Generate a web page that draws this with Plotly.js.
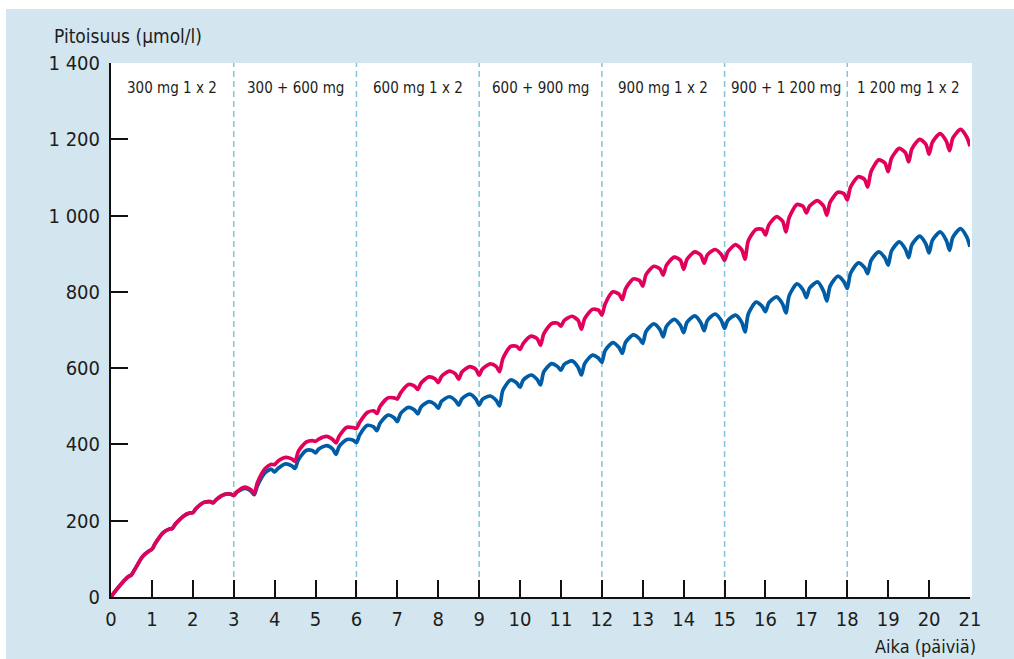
<!DOCTYPE html>
<html>
<head>
<meta charset="utf-8">
<script src="https://cdn.plot.ly/plotly-3.0.1.min.js"></script>
<style>
  html, body { margin: 0; padding: 0; background: #ffffff; }
  #chart { width: 1014px; height: 659px; }
</style>
</head>
<body>
<div id="chart"></div>
<script>
// ---- data ----
const doseDays = [0,0.5,1,1.5,2,2.5,3,3.5,4,4.5,5,5.5,6,6.5,7,7.5,8,8.5,9,9.5,10,10.5,
                  11,11.5,12,12.5,13,13.5,14,14.5,15,15.5,16,16.5,17,17.5,18,18.5,19,19.5,20,20.5,21];
const sampleOffsets = [0.08, 0.27, 0.42];   // rise, peak, fall sample times after each dose

const pinkTrough = [0,58,125,180,221,247,266,272,347,356,408,404,442,481,519,544,562,571,582,591,649,660,
                    710,702,739,780,815,844,859,875,883,886,949,957,1007,1001,1041,1075,1115,1141,1161,1170,1182];
const pinkRise   = [12,72,140,192,232,256,276,300,356,382,414,422,458,500,535,561,578,590,598,625,665,690,
                    725,730,768,808,845,870,885,897,905,934,975,995,1025,1035,1075,1115,1150,1175,1192,1203];
const pinkPeak   = [37,106,168,212,248,269,288,337,366,406,421,445,484,522,557,577,592,604,611,657,684,717,
                    736,754,800,834,867,891,905,911,924,964,997,1029,1039,1061,1102,1146,1176,1200,1215,1226];
const pinkFall   = [53,120,178,220,250,270,281,348,362,410,413,444,488,522,553,572,585,597,604,657,677,718,
                    725,752,794,830,860,883,896,898,910,964,985,1024,1025,1057,1095,1138,1165,1187,1195,1206];

const blueTrough = [0,58,125,180,221,247,266,268,328,337,378,374,405,436,460,480,495,503,503,501,550,556,
                    595,582,615,639,665,682,693,698,704,695,748,745,785,776,809,848,870,890,902,909,918];
const blueRise   = [12,72,140,192,232,256,275,292,337,360,388,395,425,456,481,498,513,520,518,542,569,590,
                    610,612,646,668,696,710,720,725,725,742,771,790,810,815,849,882,907,924,935,943];
const bluePeak   = [37,106,168,212,248,269,285,326,349,384,397,413,450,477,497,512,525,532,527,569,582,612,
                    619,634,667,687,716,728,737,742,739,773,787,821,826,841,876,905,931,946,957,966];
const blueFall   = [53,120,178,220,250,270,278,335,344,384,388,411,446,470,490,505,515,519,515,561,570,604,
                    602,626,654,677,701,712,719,725,720,762,768,805,802,826,864,889,912,926,935,944];

const segmentStarts = [0,3,6,9,12,15,18];
const segmentLabels = ['300 mg 1 x 2','300 + 600 mg','600 mg 1 x 2','600 + 900 mg',
                       '900 mg 1 x 2','900 + 1 200 mg','1 200 mg 1 x 2'];
const dividerDays = [3,6,9,12,15,18];

const xTickVals = [0,1,2,3,4,5,6,7,8,9,10,11,12,13,14,15,16,17,18,19,20,21];
const yTickVals = [0,200,400,600,800,1000,1200,1400];
const yTickText = ['0','200','400','600','800','1 000','1 200','1 400'];

const yTitle = 'Pitoisuus (µmol/l)';
const xTitle = 'Aika (päiviä)';

// ---- build series table ----
function buildSeries(trough, rise, peak, fall) {
  const x = [], y = [];
  for (let k = 0; k < doseDays.length - 1; k++) {
    x.push(doseDays[k]);                      y.push(trough[k]);
    x.push(doseDays[k] + sampleOffsets[0]);   y.push(rise[k]);
    x.push(doseDays[k] + sampleOffsets[1]);   y.push(peak[k]);
    x.push(doseDays[k] + sampleOffsets[2]);   y.push(fall[k]);
  }
  x.push(doseDays[doseDays.length - 1]); y.push(trough[trough.length - 1]);
  return {x, y};
}
const pinkS = buildSeries(pinkTrough, pinkRise, pinkPeak, pinkFall);
const blueS = buildSeries(blueTrough, blueRise, bluePeak, blueFall);

const FONT = 'Liberation Sans Narrow, DejaVu Sans Condensed, Arial Narrow, sans-serif';
const TXT = '#1d1d1b';
const PINK = '#e2005a';
const BLUE = '#005ca5';
const BG = '#d3e6ef';

const traces = [
  {x: blueS.x, y: blueS.y, type: 'scatter', mode: 'lines',
   line: {color: BLUE, width: 3.7, shape: 'spline', smoothing: 0.7}, hoverinfo: 'skip'},
  {x: pinkS.x, y: pinkS.y, type: 'scatter', mode: 'lines',
   line: {color: PINK, width: 3.7, shape: 'spline', smoothing: 0.7}, hoverinfo: 'skip'}
];

// margins -> plot area 111..970 x 63..597
const L = 111, R = 44, T = 63, B = 62, W = 1014, H = 659;
const pw = W - L - R, ph = H - T - B;
const px2x = p => (p - L) / pw;
const py2y = p => (H - B - p) / ph;

const shapes = [
  {type: 'rect', xref: 'paper', yref: 'paper', layer: 'below',
   x0: px2x(6), x1: px2x(1014), y0: py2y(659), y1: py2y(9),
   fillcolor: BG, line: {width: 0}},
  {type: 'rect', xref: 'paper', yref: 'paper', layer: 'below',
   x0: 0, x1: px2x(972), y0: 0, y1: 1,
   fillcolor: '#ffffff', line: {width: 0}}
];
dividerDays.forEach(d => shapes.push({
  type: 'line', xref: 'x', yref: 'paper', layer: 'below',
  x0: d, x1: d, y0: 0, y1: 1,
  line: {color: '#86c3d6', width: 1.5, dash: '6px,4px'}
}));

const annotations = segmentStarts.map((s, i) => ({
  x: s + 1.5, xref: 'x', y: py2y(88), yref: 'paper',
  text: segmentLabels[i], showarrow: false, xanchor: 'center', yanchor: 'middle',
  font: {family: FONT, size: 15, color: TXT}
}));
annotations.push({
  x: px2x(52), xref: 'paper', y: py2y(36), yref: 'paper',
  text: yTitle, showarrow: false, xanchor: 'left', yanchor: 'middle',
  font: {family: FONT, size: 19, color: TXT}
});
annotations.push({
  x: px2x(978), xref: 'paper', y: py2y(646), yref: 'paper',
  text: xTitle, showarrow: false, xanchor: 'right', yanchor: 'middle',
  font: {family: FONT, size: 18, color: TXT}
});

const layout = {
  width: W, height: H,
  margin: {l: L, r: R, t: T, b: B, pad: 0},
  paper_bgcolor: '#ffffff', plot_bgcolor: '#ffffff',
  showlegend: false,
  font: {family: FONT, color: TXT},
  xaxis: {
    range: [0, 21], tickvals: xTickVals, ticks: 'inside', ticklen: 17, tickwidth: 2,
    tickcolor: '#111', showline: true, linecolor: '#111', linewidth: 2,
    showgrid: false, zeroline: false, fixedrange: true,
    tickfont: {family: FONT, size: 20, color: TXT}, ticklabelstandoff: 3
  },
  yaxis: {
    range: [0, 1400], tickvals: yTickVals, ticktext: yTickText, ticks: 'inside', ticklen: 17, tickwidth: 2,
    tickcolor: '#111', showline: true, linecolor: '#111', linewidth: 2,
    showgrid: false, zeroline: false, fixedrange: true,
    tickfont: {family: FONT, size: 20, color: TXT}, ticklabelstandoff: 5
  },
  shapes: shapes,
  annotations: annotations
};

Plotly.newPlot('chart', traces, layout, {displayModeBar: false, staticPlot: true});
</script>
</body>
</html>
